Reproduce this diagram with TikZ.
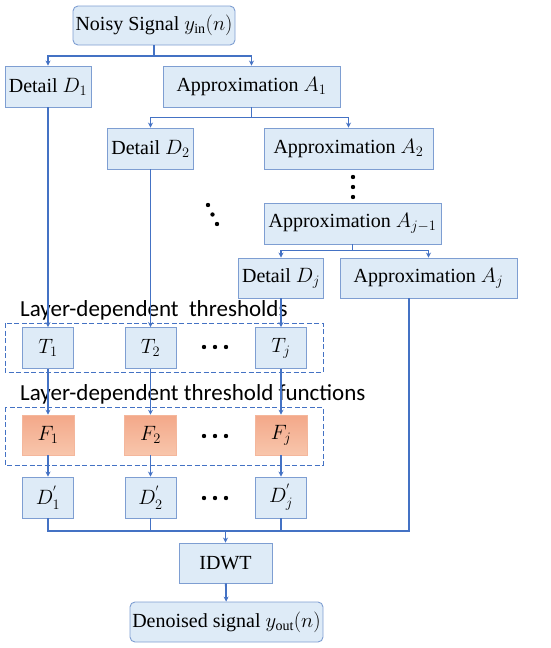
\documentclass[tikz,border=0pt]{standalone}
\usepackage{amsmath, amssymb}
\usepackage{fontspec}
\setmainfont{Liberation Serif}
\newfontfamily\calib{Carlito}
\usetikzlibrary{arrows.meta}
\definecolor{boxfill}{HTML}{DEEBF7}
\definecolor{boxline}{HTML}{7E9ED2}
\definecolor{linkblue}{HTML}{4472C4}
\definecolor{ftop}{HTML}{F3A889}
\definecolor{fbot}{HTML}{F8C6AC}
\definecolor{fline}{HTML}{F4B79C}

\begin{document}
\begin{tikzpicture}[x=1pt, y=-1pt,
    blk/.style={draw=boxline, fill=boxfill, line width=0.9pt, inner sep=0pt,
        font=\fontsize{20}{24}\selectfont},
    rblk/.style={blk, rounded corners=5pt},
    fblk/.style={draw=fline, top color=ftop, bottom color=fbot, line width=0.6pt,
        inner sep=0pt, minimum width=52, minimum height=40, font=\fontsize{20}{24}\selectfont},
    sblk/.style={blk, minimum width=51, minimum height=41},
    ln/.style={draw=linkblue, line width=1.8pt},
    arr/.style={ln, -{Stealth[length=5pt, width=5pt]}},
    grp/.style={draw=linkblue, dashed, dash pattern=on 5pt off 2.5pt, line width=0.9pt},
    lbl/.style={anchor=west, inner sep=0pt, font=\calib\fontsize{23}{26}\selectfont}
]
    \useasboundingbox (0,0) rectangle (550,648);

    % Decomposition
    \node[rblk, minimum width=162, minimum height=39] (in) at (154,25.5) {Noisy Signal $y_{\mathrm{in}}(n)$};
    \node[blk, minimum width=86, minimum height=41] (d1) at (48,86.5) {Detail $D_1$};
    \node[blk, minimum width=177, minimum height=41] (a1) at (251.5,86.5) {Approximation $A_1$};
    \node[blk, minimum width=86, minimum height=41] (d2) at (150.5,148.5) {Detail $D_2$};
    \node[blk, minimum width=169, minimum height=41] (a2) at (348.5,148.5) {Approximation $A_2$};
    \node[blk, minimum width=177, minimum height=41] (aj1) at (352.5,223.5) {Approximation $A_{j-1}$};
    \node[blk, minimum width=85, minimum height=40] (dj) at (281,278) {Detail $D_j$};
    \node[blk, minimum width=177, minimum height=40] (aj) at (428.5,278) {Approximation $A_j$};

    % Dots between levels
    \foreach \y in {177,187,197}
        \fill (353,\y) circle (2.2);
    \foreach \x/\y in {208/205, 212.5/214.5, 217/224}
        \fill (\x,\y) circle (2.2);

    % Splits
    \draw[arr] (in.south) -- ++(0,10.5) -| (d1.north);
    \draw[arr] (in.south) -- ++(0,10.5) -| (a1.north);
    \draw[arr] (a1.south) -- ++(0,10) -| (d2.north);
    \draw[arr] (a1.south) -- ++(0,10) -| (a2.north);
    \draw[arr] (aj1.south) -- ++(0,6) -| (dj.north);
    \draw[arr] (aj1.south) -- ++(0,6) -| (aj.north);

    % Thresholds and threshold functions
    \node[lbl] (lt) at (20,310) {Layer-dependent\ \ thresholds};
    \draw[grp] (5,323) rectangle (323,372);
    \node[lbl] (lf) at (20,394) {Layer-dependent threshold functions};
    \draw[grp] (5,407) rectangle (323,465);
    \foreach \n/\x/\s in {1/48/1, 2/150.5/2, j/281/j}{
        \node[sblk] (t\n) at (\x,348) {$T_{\s}$};
        \node[fblk] (f\n) at (\x,435) {$F_{\s}$};
        \node[sblk] (p\n) at (\x,497.5) {$D_{\s}^{'}$};
        \draw[arr] (t\n) -- (f\n);
        \draw[arr] (f\n) -- (p\n);
    }
    \draw[arr] (d1) -- (t1);
    \draw[arr] (d2) -- (t2);
    \draw[arr] (dj) -- (tj);
    \foreach \y in {347,436,498}
        \foreach \x in {204,215,226}
            \fill (\x,\y) circle (2.2);

    % Reconstruction
    \node[blk, minimum width=93, minimum height=40] (idwt) at (225.5,563) {IDWT};
    \node[rblk, minimum width=193, minimum height=40] (out) at (226.5,622) {Denoised signal $y_{\mathrm{out}}(n)$};
    \coordinate (jn) at (225.5,531);
    \draw[ln] (p1.south) |- (jn);
    \draw[ln] (p2.south) |- (jn);
    \draw[ln] (pj.south) |- (jn);
    \draw[ln] ([xshift=-19.5]aj.south) |- (jn);
    \draw[arr] (jn) -- (idwt);
    \draw[arr] (idwt) -- (out);

\end{tikzpicture}
\end{document}
